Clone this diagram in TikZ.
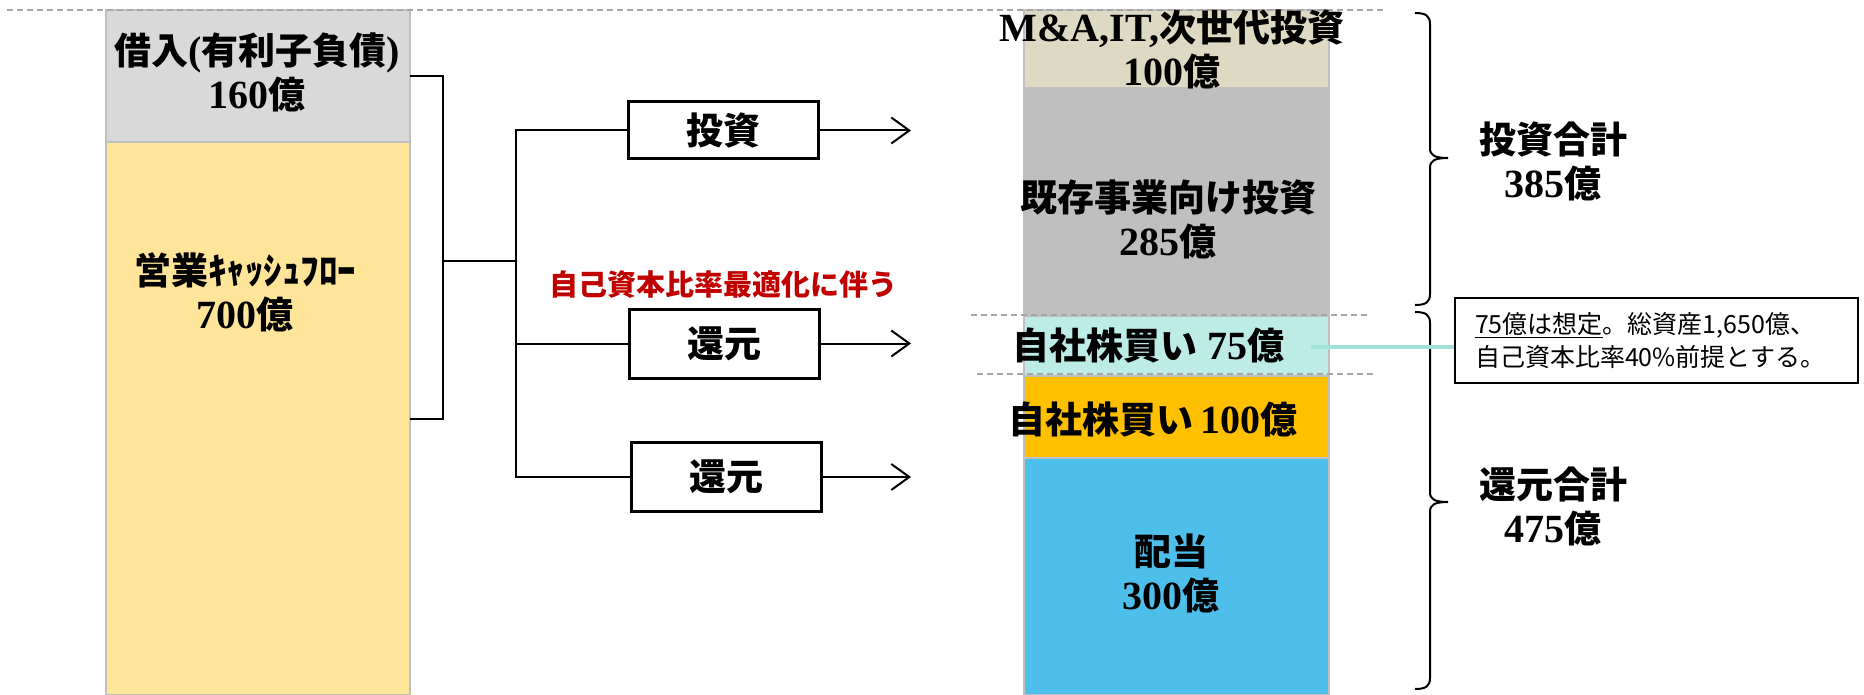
\documentclass[tikz,border=0pt]{standalone}
\usepackage{fontspec}
\setmainfont{Liberation Serif}
\newfontfamily\jp{Noto Sans CJK JP}
\usetikzlibrary{arrows.meta}
\definecolor{debtgray}{HTML}{D9D9D9}
\definecolor{cfyellow}{HTML}{FFE599}
\definecolor{beige}{HTML}{DDD9C3}
\definecolor{midgray}{HTML}{BFBFBF}
\definecolor{lcyan}{HTML}{BDEBE6}
\definecolor{gold}{HTML}{FFC000}
\definecolor{sky}{HTML}{4DBFEA}
\definecolor{tealline}{HTML}{A0E2D8}
\definecolor{darkred}{HTML}{C00000}
\definecolor{edgegray}{HTML}{BFBFBF}
\definecolor{dashgray}{HTML}{A6A6A6}
\newcommand\J[1]{{\jp\fontsize{37}{44}\selectfont #1}}
\tikzset{
  seg/.style={draw=edgegray, line width=1.5pt, inner sep=0pt, outer sep=0pt},
  lbl/.style={font=\fontsize{40}{44}\selectfont\bfseries, align=center, inner sep=0pt},
  flowbox/.style={draw=black, line width=3pt, fill=white, minimum width=190pt, inner sep=0pt, outer sep=0pt, font=\bfseries},
  conn/.style={draw=black, line width=2pt},
  arr/.style={draw=black, line width=2pt, -{Straight Barb[length=18pt,width=26pt,line width=2pt]}},
  guide/.style={draw=dashgray, line width=1.5pt, dash pattern=on 6pt off 4pt},
  bracestyle/.style={draw=black, line width=2pt},
  notebox/.style={draw=black, line width=1.5pt, fill=white, minimum width=403pt, minimum height=85pt, inner xsep=20pt, inner ysep=0pt, text width=363pt, align=left, font=\jp\fontsize{25}{33}\selectfont},
}
\begin{document}
\begin{tikzpicture}[x=1pt,y=-1pt]
\useasboundingbox (0,0) rectangle (1864,695);

% left column
\node[seg, fill=debtgray, minimum width=304pt, minimum height=132pt] (debt) at (258,76) {};
\node[seg, fill=cfyellow, minimum width=304pt, minimum height=553pt] (cf) at (258,418.5) {};

% right column
\node[seg, fill=beige, minimum width=305pt, minimum height=78pt] (mna) at (1176.5,49) {};
\node[seg, fill=midgray, minimum width=305pt, minimum height=228pt] (exist) at (1176.5,202) {};
\node[seg, fill=lcyan, minimum width=305pt, minimum height=60pt] (buyA) at (1176.5,346) {};
\node[seg, fill=gold, minimum width=305pt, minimum height=82pt] (buyB) at (1176.5,417) {};
\node[seg, fill=sky, minimum width=305pt, minimum height=237pt] (div) at (1176.5,576.5) {};

% guide lines
\coordinate (g1a) at (7,10);   \coordinate (g1b) at (1387,10);
\coordinate (g2a) at (971,315); \coordinate (g2b) at (1369,315);
\coordinate (g3a) at (977,374); \coordinate (g3b) at (1374,374);
\draw[guide] (g1a) -- (g1b);
\draw[guide] (g2a) -- (g2b);
\draw[guide] (g3a) -- (g3b);

% labels
\node[lbl] (debtlbl) at (257,72) {\J{借入}(\J{有利子負債})\\160\J{億}};
\node[lbl] (cflbl) at (245,292) {\J{営業ｷｬｯｼｭﾌﾛｰ}\\700\J{億}};
\node[lbl] (mnalbl) at (1172,49.5) {M\&A,IT,\J{次世代投資}\\100\J{億}};
\node[lbl] (existlbl) at (1168,219) {\J{既存事業向け投資}\\285\J{億}};
\node[lbl] (buyAlbl) at (1148,346) {\J{自社株買い}\ 75\J{億}};
\node[lbl] (buyBlbl) at (1153,420) {\J{自社株買い}\,100\J{億}};
\node[lbl] (divlbl) at (1171,573.5) {\J{配当}\\300\J{億}};
\node[lbl] (invtot) at (1553,161) {\J{投資合計}\\385\J{億}};
\node[lbl] (rettot) at (1553,506) {\J{還元合計}\\475\J{億}};
\node[font=\jp\bfseries\fontsize{29}{29}\selectfont, text=darkred, inner sep=0pt] (redlbl) at (723.5,285) {自己資本比率最適化に伴う};

% flow boxes
\node[flowbox, minimum height=57pt] (inv) at (723,130.5) {\J{投資}};
\node[flowbox, minimum height=69pt] (ret1) at (724.5,343.5) {\J{還元}};
\node[flowbox, minimum height=69pt] (ret2) at (726.5,477) {\J{還元}};

% connectors
\coordinate (jL) at (443,261);
\coordinate (jR) at (516,261);
\coordinate (tipx) at (911,0);
\draw[conn] (debt.east) -| (jL) |- (cf.east);
\draw[conn] (jL) -- (jR);
\draw[conn] (inv.west) -| (jR) |- (ret2.west);
\draw[conn] (ret1.west) -- (ret1.west -| jR);
\draw[arr] (inv.east) -- (inv.east -| tipx);
\draw[arr] (ret1.east) -- (ret1.east -| tipx);
\draw[arr] (ret2.east) -- (ret2.east -| tipx);

% braces
\draw[bracestyle] (1415,13) .. controls (1426,13) and (1430,16) .. (1430,24) -- (1430,148)
  .. controls (1430,155) and (1434,158) .. (1448,158)
  .. controls (1434,158) and (1430,161) .. (1430,168) -- (1430,294)
  .. controls (1430,302) and (1426,305) .. (1415,305);
\draw[bracestyle] (1415,312) .. controls (1426,312) and (1430,315) .. (1430,323) -- (1430,492)
  .. controls (1430,499) and (1434,502) .. (1448,502)
  .. controls (1434,502) and (1430,505) .. (1430,512) -- (1430,678)
  .. controls (1430,686) and (1426,689) .. (1415,689);

% callout
\coordinate (tl) at (1311,347);
\node[notebox] (note) at (1656.5,340.5) {\underline{75億は想定}。総資産1,650億、\\自己資本比率40\%前提とする。};
\draw[tealline, line width=4pt] (tl) -- (tl -| note.west);
\end{tikzpicture}
\end{document}
